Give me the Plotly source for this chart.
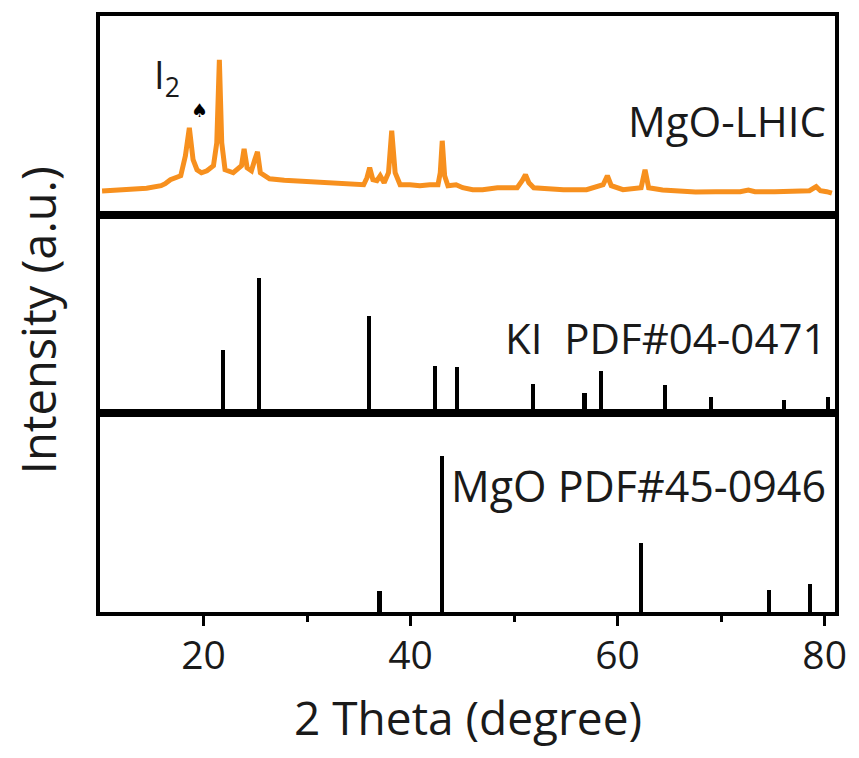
import plotly.graph_objects as go
from plotly.subplots import make_subplots

# ---- Data ----
# MgO-LHIC measured pattern (2theta, intensity a.u.)
lhic_2theta = [10.2, 11.5, 13.0, 14.5, 15.9, 16.3, 16.8, 17.3, 17.8, 18.25, 18.63, 18.99, 19.37,
               19.8, 20.33, 20.96, 21.28, 21.53, 21.76, 22.08, 22.87, 23.67, 23.92, 24.21,
               24.63, 24.95, 25.21, 25.49, 26.38, 27.8, 29.26, 30.7, 32.13, 33.56, 34.51,
               35.47, 35.79, 36.05, 36.36, 36.75, 37.07, 37.45, 37.87, 38.18, 38.51, 38.99,
               39.94, 40.9, 41.86, 42.65, 42.87, 43.06, 43.29, 43.61, 44.4, 45.04, 46.0,
               46.96, 48.39, 50.3, 50.78, 51.1, 51.43, 51.9, 53.3, 54.77, 57.0, 58.6, 59.01,
               59.39, 60.52, 62.27, 62.65, 63.0, 64.34, 66.0, 67.53, 69.5, 71.84, 72.63,
               73.27, 75.18, 77.0, 78.53, 79.18, 79.59, 80.2, 80.7]
lhic_int = [23.7, 24.3, 25, 26.5, 29, 31, 35, 37, 39, 59, 87, 55, 45,
            42, 44, 49, 72, 155, 72, 45, 42, 49, 66, 47,
            44, 55, 63, 42, 36, 34.5, 33.5, 33, 32, 30.5, 30,
            30, 37, 47, 35, 34, 39, 32, 42, 84, 42, 30,
            30, 29, 30, 30, 42, 74, 39, 29, 30, 27, 25,
            25, 27, 27, 34, 40, 32, 27, 26, 25, 25, 30, 39,
            29, 25, 27, 45, 27, 24.7, 23.5, 22.7, 23, 23, 24.7,
            23, 23, 23.5, 24, 28, 24, 23, 21.5]

# KI reference PDF#04-0471 (relative intensity)
ki_2theta = [21.9, 25.4, 36.0, 42.4, 44.5, 51.8, 56.8, 58.4, 64.6, 69.0, 76.1, 80.3]
ki_int = [47, 100, 72, 35, 34, 22, 15, 31, 21, 12, 10, 12]

# MgO reference PDF#45-0946 (relative intensity)
mgo_2theta = [37.0, 43.0, 62.3, 74.6, 78.6]
mgo_int = [13, 100, 44, 14, 18]

x_ticks = [20, 40, 60, 80]

# ---- Figure ----
FONT = "Open Sans"
TXT = "#1a1a1a"
ORANGE = "#F7901E"

fig = make_subplots(rows=3, cols=1, shared_xaxes=True, vertical_spacing=0)

fig.add_trace(go.Scatter(x=lhic_2theta, y=lhic_int, mode="lines",
                         line=dict(color=ORANGE, width=5), showlegend=False,
                         name="MgO-LHIC"), row=1, col=1)
fig.add_trace(go.Bar(x=ki_2theta, y=ki_int, width=0.4, marker=dict(color="black", line=dict(width=0)),
                     showlegend=False, name="KI"), row=2, col=1)
fig.add_trace(go.Bar(x=mgo_2theta, y=mgo_int, width=0.4, marker=dict(color="black", line=dict(width=0)),
                     showlegend=False, name="MgO"), row=3, col=1)

axis_common = dict(showline=True, linewidth=4, linecolor="black", mirror=True,
                   showgrid=False, zeroline=False)

for r in (1, 2):
    fig.update_xaxes(range=[10, 81], ticks="", showticklabels=False, **axis_common, row=r, col=1)
fig.update_xaxes(range=[10, 81], ticks="outside", ticklen=10, tickwidth=3, tickcolor="black",
                 tickvals=x_ticks, ticktext=[str(v) for v in x_ticks],
                 tickfont=dict(family=FONT, size=39, color=TXT), ticklabelstandoff=-4,
                 minor=dict(tickvals=[30, 50, 70], ticks="outside", ticklen=6, tickwidth=3,
                            tickcolor="black"),
                 **axis_common, row=3, col=1)

fig.update_yaxes(range=[0, 199], ticks="", showticklabels=False, **axis_common, row=1, col=1)
fig.update_yaxes(range=[0, 146], ticks="", showticklabels=False, **axis_common, row=2, col=1)
fig.update_yaxes(range=[0, 127.4], ticks="", showticklabels=False, **axis_common, row=3, col=1)

# Axis titles
fig.add_annotation(x=0.501, y=-0.176, xref="paper", yref="paper", text="2 Theta (degree)",
                   showarrow=False, xanchor="center", yanchor="middle",
                   font=dict(family=FONT, size=46, color=TXT))
fig.add_annotation(x=-0.084, y=0.49, xref="paper", yref="paper", text="Intensity (a.u.)",
                   showarrow=False, xanchor="center", yanchor="middle", textangle=-90,
                   font=dict(family=FONT, size=47, color=TXT))

# Labels
fig.add_annotation(x=80.35, y=94, xref="x", yref="y", text="MgO-LHIC", showarrow=False,
                   xanchor="right", yanchor="middle", font=dict(family=FONT, size=42, color=TXT))
fig.add_annotation(x=80.35, y=0.38, xref="x2", yref="y2 domain", text="KI\u00a0 PDF#04-0471",
                   showarrow=False, xanchor="right", yanchor="middle",
                   font=dict(family=FONT, size=42, color=TXT))
fig.add_annotation(x=80.35, y=0.635, xref="x3", yref="y3 domain", text="MgO PDF#45-0946",
                   showarrow=False, xanchor="right", yanchor="middle",
                   font=dict(family=FONT, size=43, color=TXT))
fig.add_annotation(x=16.5, y=138, xref="x", yref="y", text="I<sub>2</sub>", showarrow=False,
                   xanchor="center", yanchor="middle", font=dict(family=FONT, size=38, color=TXT))
fig.add_annotation(x=19.6, y=105, xref="x", yref="y", text="\u2660", showarrow=False,
                   xanchor="center", yanchor="middle", font=dict(family="DejaVu Sans", size=19, color="black"))

fig.update_layout(width=859, height=758, margin=dict(l=100, r=21, t=13, b=146, pad=0),
                  paper_bgcolor="white", plot_bgcolor="white", bargap=0,
                  font=dict(family=FONT, color=TXT))

fig.write_html("out.html")
